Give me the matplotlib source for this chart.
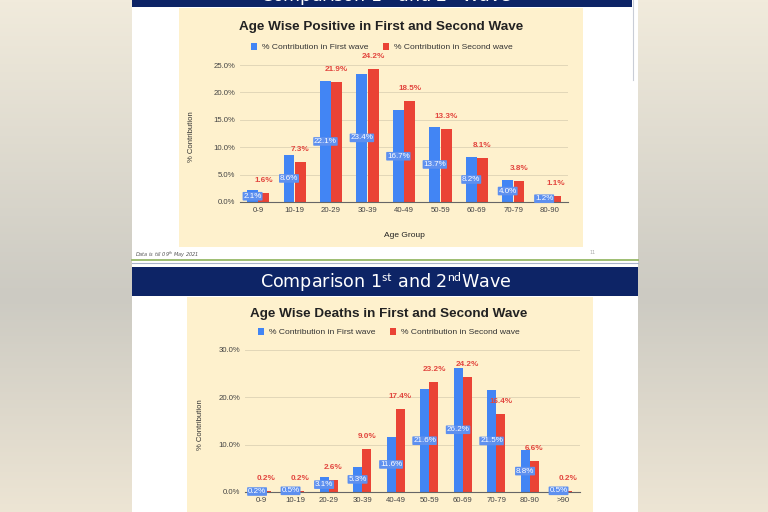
import numpy as np
import matplotlib
matplotlib.use("Agg")
import matplotlib.pyplot as plt
from matplotlib.patches import Rectangle
from matplotlib.ticker import FuncFormatter

# ---------------- data ----------------
pos_groups = ['0-9', '10-19', '20-29', '30-39', '40-49', '50-59', '60-69', '70-79', '80-90']
pos_first = [2.1, 8.6, 22.1, 23.4, 16.7, 13.7, 8.2, 4.0, 1.2]
pos_second = [1.6, 7.3, 21.9, 24.2, 18.5, 13.3, 8.1, 3.8, 1.1]

death_groups = ['0-9', '10-19', '20-29', '30-39', '40-49', '50-59', '60-69', '70-79', '80-90', '>90']
death_first = [0.2, 0.5, 3.1, 5.3, 11.6, 21.6, 26.2, 21.5, 8.8, 0.5]
death_second = [0.2, 0.2, 2.6, 9.0, 17.4, 23.2, 24.2, 16.4, 6.6, 0.2]

legend_labels = ['% Contribution in First wave', '% Contribution in Second wave']
title_pos = 'Age Wise Positive in First and Second Wave'
title_death = 'Age Wise Deaths in First and Second Wave'
slide_title = r'Comparison 1$^{\mathrm{st}}$ and 2$^{\mathrm{nd}}$Wave'

BLUE = '#4285F4'
RED = '#EA4335'
CREAM = '#FEF1CD'
NAVY = '#0D2466'
FONT = 'Liberation Sans'

plt.rcParams['mathtext.fontset'] = 'custom'
plt.rcParams['mathtext.rm'] = 'Lato'
plt.rcParams['mathtext.it'] = 'Lato:italic'

W, H = 768, 512
fig = plt.figure(figsize=(W / 100, H / 100), dpi=100)

# ---------------- background ----------------
bg = fig.add_axes([0, 0, 1, 1])
bg.set_xlim(0, W)
bg.set_ylim(H, 0)
bg.axis('off')
t = np.linspace(0, 1, 256)[:, None]
top = np.array([241, 235, 220]) / 255
mid = np.array([204, 202, 194]) / 255
bot = np.array([237, 229, 212]) / 255
col = np.where(t < 0.58, top + (mid - top) * (t / 0.58), mid + (bot - mid) * ((t - 0.58) / 0.42))
grad = np.repeat(col[:, None, :], 2, axis=1).reshape(256, 2, 3)
bg.imshow(grad, aspect='auto', extent=[0, W, H, 0], zorder=0)

bg.add_patch(Rectangle((132, 0), 506, 512, fc='white', ec='none', zorder=1))
bg.add_patch(Rectangle((132, 0), 500, 7, fc=NAVY, ec='none', zorder=2))
bg.plot([632.5, 632.5], [0, 80], color='#C9CDD6', lw=0.8, zorder=2)
bg.add_patch(Rectangle((179, 8), 404, 239, fc=CREAM, ec='none', zorder=2))
# bottom strip of the previous slide's header (only partly visible)
bg.text(386, 1.5, slide_title, color='white', fontsize=12.6, ha='center', va='baseline',
        zorder=3, clip_on=True)
bg.text(135, 255, r'Data is till 09$^{th}$ May 2021', fontsize=3.6, style='italic',
        color='#555555', ha='left', va='center', zorder=3)
bg.text(593, 252, '11', fontsize=3.5, color='#AAAAAA', ha='center', va='center', zorder=3)
bg.plot([132, 638], [259.5, 259.5], color='#8DB35A', lw=1.2, zorder=3)
bg.plot([132, 638], [263, 263], color='#A9B4CB', lw=0.8, zorder=3)
bg.add_patch(Rectangle((132, 267), 506, 29, fc=NAVY, ec='none', zorder=2))
bg.text(386, 288, slide_title, color='white', fontsize=12.6, ha='center', va='baseline', zorder=3)
bg.add_patch(Rectangle((187, 297), 406, 230, fc=CREAM, ec='none', zorder=2))


def px_axes(left, right, y0, ytop):
    return fig.add_axes([left / W, 1 - y0 / H, (right - left) / W, (y0 - ytop) / H])


def draw_chart(ax, groups, first, second, ymax, step, w, off, title, title_xy, legend_xy,
               ylab_xy, xlab_xy):
    x = np.arange(len(groups))
    ax.set_facecolor('none')
    b1 = ax.bar(x - off, first, w, color=BLUE, zorder=3, label=legend_labels[0])
    b2 = ax.bar(x + off, second, w, color=RED, zorder=3, label=legend_labels[1])
    ax.set_xlim(-0.5, len(groups) - 0.5)
    ax.set_ylim(0, ymax)
    ax.set_yticks(np.arange(0, ymax + 0.01, step))
    ax.yaxis.set_major_formatter(FuncFormatter(lambda v, p: f'{v:.1f}%'))
    ax.set_xticks(x)
    ax.set_xticklabels(groups)
    ax.tick_params(axis='both', length=0, labelsize=5.6, labelcolor='#444444', pad=3.6)
    for lab in ax.get_xticklabels() + ax.get_yticklabels():
        lab.set_family(FONT)
    ax.yaxis.grid(True, color='#E2D7B8', lw=0.7, zorder=0)
    ax.set_axisbelow(True)
    for s in ['top', 'right', 'left']:
        ax.spines[s].set_visible(False)
    ax.spines['bottom'].set_color('#666666')
    ax.spines['bottom'].set_linewidth(0.8)
    ax.spines['bottom'].set_zorder(4)

    for xi, v in zip(x, first):
        ax.text(xi - off, v / 2, f'{v:.1f}%', ha='center', va='center', color='white',
                fontsize=5.8, family=FONT, zorder=5,
                bbox=dict(boxstyle='round,pad=0.1', fc='#5E90EF', ec='none'))
    for xi, v in zip(x, second):
        ax.annotate(f'{v:.1f}%', (xi + off, v), xytext=(0, 9), textcoords='offset points',
                    ha='center', va='center', color='#E2463E', fontsize=5.9,
                    fontweight='bold', family=FONT, zorder=5, annotation_clip=False)

    ax.set_ylabel('% Contribution', fontsize=5.6, family=FONT, color='#333333')
    ax.yaxis.set_label_coords(*ylab_xy)
    if xlab_xy is not None:
        ax.set_xlabel('Age Group', fontsize=6, family=FONT, color='#222222')
        ax.xaxis.set_label_coords(*xlab_xy)

    bg.text(title_xy[0], title_xy[1], title, fontsize=9.7, fontweight='bold', family=FONT,
            color='#222222', ha='center', va='center', zorder=4)
    leg = ax.legend(handles=[b1, b2], loc='center', bbox_to_anchor=legend_xy,
                    bbox_transform=bg.transData, ncol=2, frameon=False,
                    prop={'family': FONT, 'size': 6.1}, handlelength=0.7, handleheight=0.95,
                    columnspacing=1.7, handletextpad=0.6, borderaxespad=0)
    for txt in leg.get_texts():
        txt.set_color('#333333')


# top chart: positives
ax1 = px_axes(240, 568, 202, 65)
draw_chart(ax1, pos_groups, pos_first, pos_second, 25, 5, 0.3, 0.155, title_pos,
           (381, 27), (382, 47), (-0.137, 0.474), (0.5, -0.219))

# bottom chart: deaths (its x-axis title lies below the visible area)
ax2 = px_axes(245, 580, 492, 349.5)
draw_chart(ax2, death_groups, death_first, death_second, 30, 10, 0.27, 0.14, title_death,
           (389, 314), (389, 332), (-0.122, 0.47), None)

fig.savefig('out.png', dpi=100)
